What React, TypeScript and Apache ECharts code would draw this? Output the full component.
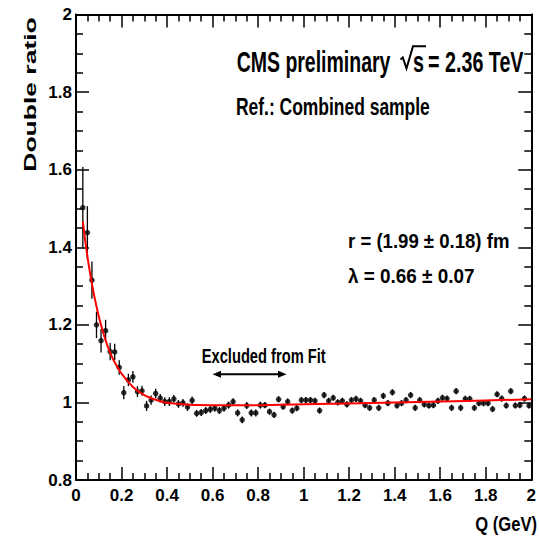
import React, { useEffect, useRef } from "react";
import * as echarts from "echarts";

// Bin centres Q (GeV)
const qValues = [
  0.03, 0.05, 0.07, 0.09, 0.11, 0.13, 0.15, 0.17, 0.19, 0.21,
  0.23, 0.25, 0.27, 0.29, 0.31, 0.33, 0.35, 0.37, 0.39, 0.41,
  0.43, 0.45, 0.47, 0.49, 0.51, 0.53, 0.55, 0.57, 0.59, 0.61,
  0.63, 0.65, 0.67, 0.69, 0.71, 0.73, 0.75, 0.77, 0.79, 0.81,
  0.83, 0.85, 0.87, 0.89, 0.91, 0.93, 0.95, 0.97, 0.99, 1.01,
  1.03, 1.05, 1.07, 1.09, 1.11, 1.13, 1.15, 1.17, 1.19, 1.21,
  1.23, 1.25, 1.27, 1.29, 1.31, 1.33, 1.35, 1.37, 1.39, 1.41,
  1.43, 1.45, 1.47, 1.49, 1.51, 1.53, 1.55, 1.57, 1.59, 1.61,
  1.63, 1.65, 1.67, 1.69, 1.71, 1.73, 1.75, 1.77, 1.79, 1.81,
  1.83, 1.85, 1.87, 1.89, 1.91, 1.93, 1.95, 1.97, 1.99,
];

// Double ratio values
const ratioValues = [
  1.502, 1.438, 1.315, 1.2, 1.159, 1.185, 1.131, 1.13, 1.09, 1.025,
  1.058, 1.066, 1.028, 1.03, 0.991, 1.006, 1.023, 1.011, 1.002, 1.002,
  1.009, 0.996, 0.999, 0.988, 1.005, 0.972, 0.974, 0.979, 0.982, 0.985,
  0.979, 0.985, 0.993, 1.002, 0.973, 0.955, 0.992, 0.973, 0.973, 0.993,
  0.993, 0.976, 0.968, 1.008, 0.989, 1.002, 0.979, 0.985, 1.006, 1.006,
  1.006, 1.004, 0.979, 1.019, 1.004, 1.012, 1.0, 1.004, 0.995, 1.006,
  1.009, 1.004, 0.993, 0.986, 1.006, 0.986, 1.017, 0.998, 1.026, 0.992,
  0.998, 1.006, 1.019, 0.986, 1.006, 0.995, 0.992, 0.993, 1.004, 1.012,
  1.01, 0.986, 1.029, 0.986, 1.009, 1.009, 0.986, 0.998, 0.998, 0.998,
  0.983, 1.021, 1.01, 0.992, 1.029, 0.992, 0.993, 1.01, 0.992,
];

// Statistical errors
const ratioErrors = [
  0.105, 0.068, 0.048, 0.034, 0.03, 0.028, 0.022, 0.021, 0.019, 0.017,
  0.016, 0.015, 0.014, 0.013, 0.013, 0.012, 0.012, 0.011, 0.011, 0.011,
  0.01, 0.01, 0.01, 0.01, 0.01, 0.009, 0.009, 0.009, 0.009, 0.009,
  0.009, 0.009, 0.009, 0.009, 0.009, 0.009, 0.009, 0.009, 0.009, 0.009,
  0.008, 0.008, 0.008, 0.008, 0.008, 0.008, 0.008, 0.008, 0.008, 0.008,
  0.008, 0.008, 0.008, 0.008, 0.008, 0.008, 0.008, 0.008, 0.008, 0.008,
  0.008, 0.008, 0.008, 0.008, 0.008, 0.008, 0.008, 0.008, 0.008, 0.008,
  0.008, 0.008, 0.008, 0.008, 0.008, 0.008, 0.008, 0.008, 0.008, 0.008,
  0.008, 0.008, 0.008, 0.008, 0.008, 0.008, 0.008, 0.008, 0.008, 0.008,
  0.008, 0.008, 0.008, 0.008, 0.008, 0.008, 0.008, 0.008, 0.008,
];

// Fit curve
const fitQ = [
  0.03, 0.04, 0.05, 0.06, 0.07, 0.08, 0.1, 0.12, 0.14, 0.16, 0.18, 0.2,
  0.25, 0.3, 0.35, 0.4, 0.5, 0.6, 0.8, 1.0, 1.5, 2.0,
];
const fitValues = [
  1.466, 1.419, 1.377, 1.34, 1.306, 1.275, 1.222, 1.179, 1.143, 1.115, 1.093, 1.074,
  1.04, 1.019, 1.007, 0.999, 0.994, 0.993, 0.993, 0.995, 1.001, 1.008,
];

const xTicks = { min: 0, max: 2, interval: 0.2 };
const yTicks = { min: 0.8, max: 2, interval: 0.2 };

const FONT_NARROW = "'Liberation Sans Narrow', 'Liberation Sans', Arial, sans-serif";
const FONT = "'Liberation Sans', Arial, sans-serif";

export default function App() {
  const ref = useRef<HTMLDivElement>(null);

  useEffect(() => {
    document.body.style.margin = "0";
    const chart = echarts.init(ref.current!, null, { renderer: "svg" });

    const tickCommon = {
      axisLine: { show: true, onZero: false, lineStyle: { color: "#000", width: 2 } },
      axisTick: { show: true, inside: true, length: 13, lineStyle: { color: "#000", width: 1.5 } },
      minorTick: { show: true, splitNumber: 4, length: 7, lineStyle: { color: "#000", width: 1.5 } },
      splitLine: { show: false },
      minorSplitLine: { show: false },
    };
    const labelStyle = {
      color: "#000",
      fontSize: 17,
      fontWeight: "bold" as const,
      fontFamily: FONT_NARROW,
    };

    const errData = qValues.map((q, i) => [q, ratioValues[i] - ratioErrors[i], ratioValues[i] + ratioErrors[i]]);
    const ptData = qValues.map((q, i) => [q, ratioValues[i]]);
    const fitData = fitQ.map((q, i) => [q, fitValues[i]]);

    const txt = (
      text: string,
      x: number,
      y: number,
      size: number,
      scaleX: number,
      align: string = "left"
    ) => ({
      type: "text",
      x,
      y,
      scaleX,
      style: {
        text,
        fill: "#000",
        font: `bold ${size}px ${FONT}`,
        align,
        verticalAlign: "middle",
      },
      z: 100,
    });

    chart.setOption({
      animation: false,
      backgroundColor: "#fff",
      grid: { left: 76, right: 3, top: 14.5, bottom: 57, containLabel: false },
      xAxis: [
        {
          type: "value",
          position: "bottom",
          ...xTicks,
          ...tickCommon,
          axisLabel: { ...labelStyle, margin: 7 },
        },
        {
          type: "value",
          position: "top",
          ...xTicks,
          ...tickCommon,
          axisLabel: { show: false },
        },
      ],
      yAxis: [
        {
          type: "value",
          position: "left",
          ...yTicks,
          ...tickCommon,
          axisLabel: { ...labelStyle, margin: 4 },
        },
        {
          type: "value",
          position: "right",
          ...yTicks,
          ...tickCommon,
          axisLabel: { show: false },
        },
      ],
      series: [
        {
          type: "custom",
          xAxisIndex: 0,
          yAxisIndex: 0,
          data: errData,
          renderItem: (params: any, api: any) => {
            const p1 = api.coord([api.value(0), api.value(1)]);
            const p2 = api.coord([api.value(0), api.value(2)]);
            return {
              type: "line",
              shape: { x1: p1[0], y1: p1[1], x2: p2[0], y2: p2[1] },
              style: { stroke: "#000", lineWidth: 1.3 },
            };
          },
          z: 2,
        },
        {
          type: "scatter",
          xAxisIndex: 0,
          yAxisIndex: 0,
          data: ptData,
          symbol: "circle",
          symbolSize: 5.5,
          itemStyle: { color: "#000" },
          z: 3,
        },
        {
          type: "line",
          xAxisIndex: 0,
          yAxisIndex: 0,
          data: fitData,
          smooth: 0.3,
          showSymbol: false,
          lineStyle: { color: "#ff0000", width: 2 },
          z: 4,
        },
      ],
      graphic: [
        txt("CMS preliminary", 236.7, 62.2, 29, 0.672),
        {
          type: "polyline",
          shape: { points: [[400.5, 59.5], [402.8, 57.5], [406.5, 68.5], [413, 46.2], [426, 46.2]] },
          style: { stroke: "#000", lineWidth: 2, fill: null },
          z: 100,
        },
        txt("s", 413, 62.2, 29, 0.68),
        txt("= 2.36 TeV", 428, 62.2, 29, 0.68),
        txt("Ref.: Combined sample", 236, 106.4, 24, 0.727),
        txt("r = (1.99 \u00B1 0.18) fm", 348, 240.8, 21, 0.885),
        txt("\u03BB = 0.66 \u00B1 0.07", 348, 275.8, 21, 0.9),
        txt("Excluded from Fit", 201.7, 355.8, 21, 0.7),
        txt("Q (GeV)", 537, 523.7, 21, 0.79, "right"),
        {
          type: "text",
          x: 30,
          y: 94.5,
          rotation: Math.PI / 2,
          scaleY: 0.65,
          style: {
            text: "Double ratio",
            fill: "#000",
            font: `bold 26.5px ${FONT}`,
            align: "center",
            verticalAlign: "middle",
          },
          z: 100,
        },
        {
          type: "line",
          shape: { x1: 216, y1: 374.3, x2: 283, y2: 374.3 },
          style: { stroke: "#000", lineWidth: 2 },
          z: 100,
        },
        {
          type: "polygon",
          shape: { points: [[212.5, 374.3], [221, 370.8], [221, 377.8]] },
          style: { fill: "#000" },
          z: 100,
        },
        {
          type: "polygon",
          shape: { points: [[286.5, 374.3], [278, 370.8], [278, 377.8]] },
          style: { fill: "#000" },
          z: 100,
        },
      ],
    });

    return () => chart.dispose();
  }, []);

  return <div ref={ref} style={{ width: 539, height: 537 }} />;
}
